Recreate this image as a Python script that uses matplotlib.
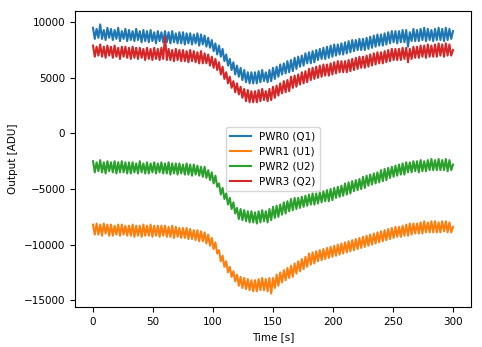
import numpy as np
import matplotlib
matplotlib.use("Agg")
import matplotlib.pyplot as plt

plt.rcParams['font.size'] = 7.5

# values, one sample every 1.5 s from 0 to 300 s
# (ten samples per row = 15 s)
pwr0_q1 = [9500, 8500, 9400, 8600, 9800, 8500, 9300, 8400, 9500, 8600,
           9400, 8400, 9300, 8500, 9500, 8300, 9200, 8500, 9400, 8300,
           9300, 8400, 9200, 8300, 9400, 8400, 9200, 8200, 9300, 8300,
           9200, 8200, 9300, 8300, 9100, 8100, 9200, 8300, 9100, 8200,
           9200, 8200, 9100, 8100, 9200, 8200, 9000, 8100, 9100, 8100,
           9100, 8000, 9000, 8100, 9000, 8000, 8900, 8100, 9000, 7900,
           8900, 8000, 8800, 7800, 8600, 7700, 8400, 7400, 8100, 7100,
           7900, 6900, 7600, 6500, 7100, 6100, 6700, 5700, 6400, 5300,
           6100, 5100, 5900, 4800, 5700, 4600, 5500, 4500, 5500, 4500,
           5500, 4500, 5600, 4600, 5700, 4700, 5500, 4600, 5700, 4700,
           5900, 4900, 6000, 5100, 6200, 5300, 6300, 5400, 6500, 5500,
           6600, 5600, 6800, 5800, 6900, 6000, 7000, 6100, 7200, 6300,
           7300, 6300, 7400, 6400, 7500, 6600, 7600, 6700, 7700, 6700,
           7800, 6800, 7900, 6900, 8000, 7000, 8000, 7100, 8100, 7100,
           8200, 7200, 8300, 7300, 8400, 7400, 8400, 7500, 8500, 7500,
           8500, 7500, 8600, 7600, 8700, 7700, 8800, 7800, 8900, 7900,
           8900, 7900, 9000, 8000, 9100, 8100, 9200, 8200, 9200, 8100,
           9200, 8200, 9300, 8200, 9300, 7800, 9100, 8300, 9400, 8300,
           9300, 8300, 9400, 8400, 9500, 8300, 9400, 8400, 9300, 8300,
           9400, 8400, 9500, 8400, 9400, 8300, 9500, 8400, 9400, 8500,
           9200]
pwr1_u1 = [-8200, -9100, -8100, -9100, -8200, -9200, -8100, -9000, -8200, -9200,
           -8200, -9200, -8300, -9100, -8200, -9200, -8200, -9100, -8300, -9200,
           -8300, -9200, -8200, -9300, -8300, -9200, -8300, -9300, -8200, -9200,
           -8300, -9200, -8200, -9300, -8300, -9200, -8300, -9300, -8300, -9200,
           -8300, -9300, -8400, -9300, -8300, -9400, -8400, -9300, -8500, -9400,
           -8500, -9400, -8500, -9500, -8600, -9500, -8700, -9600, -8700, -9700,
           -8800, -9700, -8900, -9900, -9100, -10100, -9400, -10400, -9800, -10800,
           -10500, -11500, -11000, -12000, -11500, -12500, -12000, -12900, -12400, -13300,
           -12700, -13700, -12900, -13900, -13000, -14000, -13100, -14100, -13200, -14200,
           -13200, -14200, -13100, -14100, -13000, -14100, -13100, -14200, -13000, -14400,
           -13000, -13900, -12700, -13700, -12500, -13400, -12300, -13200, -12100, -13000,
           -11900, -12900, -11700, -12600, -11500, -12400, -11300, -12200, -11100, -12000,
           -10800, -11800, -10700, -11700, -10600, -11500, -10500, -11400, -10400, -11300,
           -10300, -11200, -10200, -11100, -10100, -11000, -10000, -10900, -9900, -10800,
           -9800, -10700, -9700, -10600, -9600, -10500, -9500, -10400, -9400, -10300,
           -9300, -10200, -9200, -10100, -9100, -10000, -9000, -9900, -8900, -9800,
           -8800, -9700, -8700, -9600, -8600, -9500, -8500, -9400, -8400, -9300,
           -8400, -9300, -8300, -9200, -8200, -9200, -8100, -9100, -8100, -9000,
           -8100, -9000, -8000, -9000, -7900, -8900, -8000, -8900, -7900, -8900,
           -7900, -8900, -8000, -8900, -7900, -8800, -7900, -8900, -8000, -8900,
           -8400]
pwr2_u2 = [-2500, -3500, -2600, -3400, -2400, -3500, -2600, -3600, -2500, -3400,
           -2600, -3500, -2500, -3600, -2600, -3500, -2500, -3500, -2600, -3600,
           -2600, -3600, -2600, -3500, -2700, -3600, -2500, -3500, -2700, -3600,
           -2600, -3600, -2700, -3500, -2600, -3600, -2700, -3500, -2600, -3600,
           -2700, -3600, -2600, -3700, -2700, -3600, -2700, -3700, -2700, -3600,
           -2800, -3700, -2700, -3700, -2800, -3800, -2800, -3700, -2900, -3800,
           -3000, -3900, -3000, -4000, -3300, -4200, -3500, -4500, -3800, -4800,
           -4500, -5500, -4900, -5900, -5400, -6400, -5800, -6800, -6200, -7200,
           -6700, -7700, -6800, -7800, -6900, -7900, -7000, -8000, -7000, -8000,
           -7100, -8100, -7000, -8000, -6900, -7900, -7000, -8000, -6800, -7800,
           -6600, -7600, -6500, -7500, -6400, -7300, -6200, -7200, -6100, -7000,
           -5900, -6900, -5800, -6800, -5800, -6700, -5700, -6600, -5600, -6500,
           -5500, -6400, -5400, -6400, -5400, -6300, -5300, -6200, -5200, -6100,
           -5100, -6100, -5000, -6000, -4900, -5800, -4800, -5700, -4700, -5600,
           -4500, -5500, -4400, -5400, -4300, -5200, -4200, -5100, -4100, -5000,
           -3900, -4900, -3800, -4700, -3700, -4600, -3600, -4500, -3500, -4400,
           -3300, -4300, -3200, -4200, -3100, -4000, -3000, -3900, -2900, -3800,
           -2800, -3700, -2700, -3700, -2600, -3500, -2600, -3500, -2500, -3400,
           -2500, -3500, -2400, -3400, -2500, -3400, -2400, -3300, -2300, -3300,
           -2400, -3300, -2300, -3300, -2400, -3300, -2300, -3400, -2400, -3300,
           -2800]
pwr3_q2 = [7900, 6900, 7800, 7000, 8000, 6900, 7800, 6800, 7900, 7000,
           7800, 6800, 7900, 6900, 7700, 6700, 7800, 6900, 7800, 6800,
           7700, 6700, 7800, 6800, 7700, 6700, 7700, 6800, 7600, 6600,
           7700, 6700, 7600, 6600, 7700, 6700, 7600, 6600, 7700, 6700,
           8700, 6600, 7600, 6600, 7500, 6500, 7600, 6600, 7500, 6500,
           7500, 6500, 7400, 6400, 7500, 6500, 7400, 6400, 7300, 6300,
           7400, 6300, 7200, 6300, 7100, 6100, 6900, 5900, 6700, 5700,
           6400, 5300, 6000, 4900, 5500, 4500, 5100, 4100, 4700, 3700,
           4500, 3500, 4200, 3200, 4000, 2900, 3900, 2800, 3800, 2800,
           3800, 2800, 3900, 2900, 4000, 3000, 3800, 2900, 4000, 3000,
           4200, 3200, 4300, 3400, 4500, 3600, 4700, 3700, 4800, 3800,
           5100, 4100, 5200, 4200, 5300, 4400, 5500, 4500, 5600, 4600,
           5800, 4800, 5900, 4900, 6000, 5000, 6100, 5100, 6200, 5200,
           6200, 5200, 6300, 5300, 6400, 5400, 6500, 5500, 6500, 5500,
           6500, 5500, 6600, 5600, 6700, 5700, 6800, 5800, 6900, 5900,
           6900, 5900, 7000, 6000, 7100, 6100, 7200, 6200, 7300, 6300,
           7300, 6300, 7400, 6400, 7500, 6500, 7600, 6600, 7600, 6600,
           7600, 6600, 7700, 6700, 7700, 6400, 7600, 6700, 7800, 6800,
           7800, 6800, 7900, 6900, 7900, 6800, 8000, 6900, 7900, 6900,
           8000, 6900, 8100, 7000, 8000, 6900, 8100, 7000, 8000, 7000,
           7500]

series = [pwr0_q1, pwr1_u1, pwr2_u2, pwr3_q2]
labels = ['PWR0 (Q1)', 'PWR1 (U1)', 'PWR2 (U2)', 'PWR3 (Q2)']

time = np.linspace(0, 300, len(pwr0_q1))

fig = plt.figure(figsize=(4.82, 3.47), dpi=100)
ax = fig.add_axes([0.1556, 0.1153, 0.8216, 0.853])
for vals, lab in zip(series, labels):
    ax.plot(time, vals, label=lab)

ax.set_xlabel('Time [s]')
ax.set_ylabel('Output [ADU]')
ax.legend(loc='center')

fig.savefig('out.png', dpi=100)
